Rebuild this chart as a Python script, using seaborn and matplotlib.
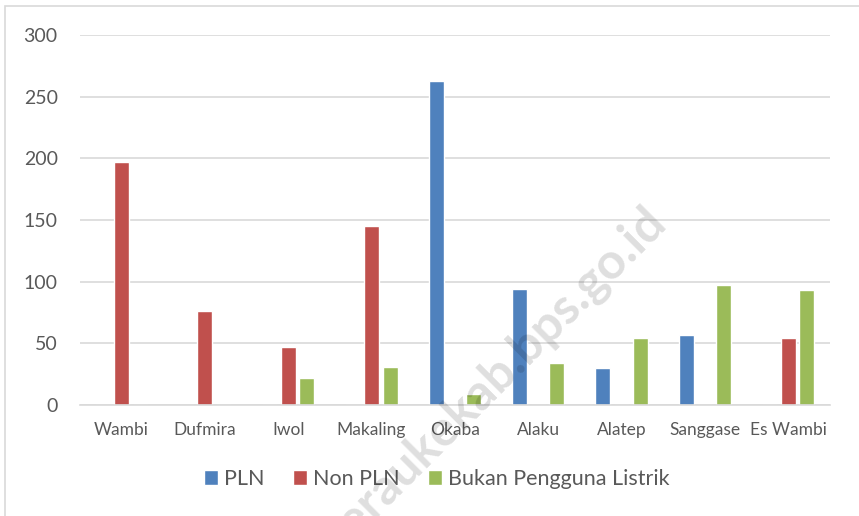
import matplotlib
matplotlib.use('agg')
import matplotlib.pyplot as plt
from matplotlib.patches import Rectangle
import pandas as pd
import seaborn as sns

# data
districts = ['Wambi', 'Dufmira', 'Iwol', 'Makaling', 'Okaba',
             'Alaku', 'Alatep', 'Sanggase', 'Es Wambi']
pln = [0, 0, 0, 0, 263, 94, 30, 57, 0]
non_pln = [197, 76, 47, 145, 0, 0, 0, 0, 54]
bukan = [0, 0, 22, 31, 9, 34, 54, 97, 93]
series = ['PLN', 'Non PLN', 'Bukan Pengguna Listrik']
colors = ['#4F81BD', '#C0504D', '#9BBB59']
yticks = [0, 50, 100, 150, 200, 250, 300]

rows = []
for vals, name in zip([pln, non_pln, bukan], series):
    for d, v in zip(districts, vals):
        rows.append({'district': d, 'series': name, 'value': v})
df = pd.DataFrame(rows)

sns.set_style('white')
plt.rcParams['font.family'] = ['Lato', 'DejaVu Sans']
text_col = '#595959'

fig = plt.figure(figsize=(8.59, 5.16), dpi=100)
ax = fig.add_axes([0.093, 0.215, 0.873, 0.717])

sns.barplot(data=df, x='district', y='value', hue='series', order=districts,
            hue_order=series, palette=colors, width=0.67, saturation=1,
            gap=0.2, ax=ax, legend=True)

ax.set_ylim(0, 300)
ax.set_yticks(yticks)
ax.yaxis.grid(True, color='#D9D9D9', linewidth=1.2)
ax.set_axisbelow(True)
for s in ['top', 'right', 'left']:
    ax.spines[s].set_visible(False)
ax.spines['bottom'].set_color('#D9D9D9')
ax.spines['bottom'].set_linewidth(1.2)
ax.set_xlabel('')
ax.set_ylabel('')
ax.tick_params(axis='y', length=0, pad=16, labelsize=14, labelcolor=text_col)
ax.tick_params(axis='x', length=0, pad=12, labelsize=12.5, labelcolor=text_col)

handles, labels = ax.get_legend_handles_labels()
ax.legend(handles, labels, loc='center', bbox_to_anchor=(0.476, -0.2),
          ncol=3, frameon=False, fontsize=15.5, labelcolor=text_col,
          handlelength=0.65, handleheight=0.65, handletextpad=0.3,
          columnspacing=1.3)

# watermark (runs off the bottom edge, as in the source)
fig.text(0.566, 0.252, 'meraukekab.bps.go.id', rotation=45, fontsize=36,
         fontweight='bold', color='#000000', alpha=0.13,
         ha='center', va='center')

# outer frame
fig.patches.append(Rectangle((0.006, -0.01), 1.0, 0.999, transform=fig.transFigure,
                             fill=False, edgecolor='#D9D9D9', linewidth=1.2))

fig.savefig('out.png', dpi=100)
